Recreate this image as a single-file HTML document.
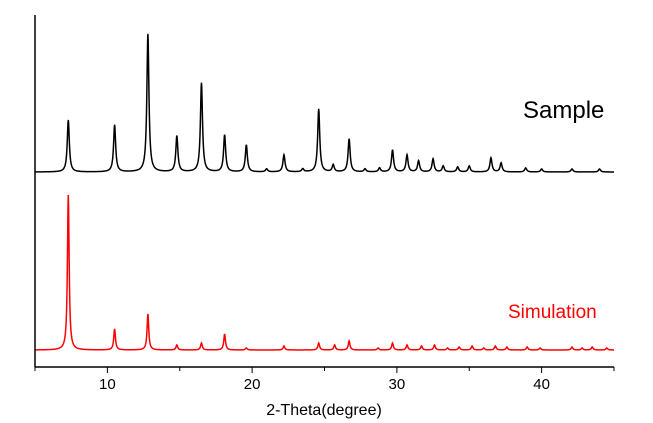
<!DOCTYPE html>
<html><head><meta charset="utf-8"><style>
html,body{margin:0;padding:0;background:#fff;}
svg{display:block;font-family:"Liberation Sans",Arial,sans-serif;}
</style></head><body>
<svg id="chart" width="653" height="423" viewBox="0 0 653 423">
<g id="plot"></g>
<line x1="35" y1="15" x2="35" y2="367" stroke="#000" stroke-width="1.5"/>
<line x1="35" y1="367" x2="614" y2="367" stroke="#000" stroke-width="1.5"/>
<g id="ticks"></g>
<text x="324" y="415" font-size="16" text-anchor="middle">2-Theta(degree)</text>
<text x="523" y="118" font-size="24" fill="#000">Sample</text>
<text x="508" y="318" font-size="19" fill="#f00">Simulation</text>
</svg>
<script>
const xTicks=[10,20,30,40];
const minorTicks=[5,15,25,35,45];
const samplePos=[7.3,10.5,12.8,14.8,16.5,18.1,19.6,21.0,22.2,23.5,24.6,25.6,26.7,27.8,28.8,29.7,30.7,31.5,32.5,33.2,34.2,35.0,36.5,37.2,38.9,40.0,42.1,44.0];
const sampleVal=[52,47,138,36,89,37,27,3,17,3,63,7,33,3,4,22,17,11,13,6,5,6,14,9,4,3,3,3];
const simPos=[7.3,10.5,12.8,14.8,16.5,18.1,19.6,22.2,24.6,25.7,26.7,28.7,29.7,30.7,31.7,32.6,33.5,34.3,35.2,36.0,36.8,37.6,39.0,39.9,42.1,42.8,43.5,44.5];
const simVal=[155,21,36,5,7,16,2,4,7,5,9,2,7,5,4,5,2,3,4,2,4,3,3,2,3,2,3,2];
const xs=d=>35+(d-5)*(579/40);
const ySample=v=>172-v;
const ySim=v=>350-v;
const NS="http://www.w3.org/2000/svg";
function profile(pos,val,d,w){let s=0;for(let i=0;i<pos.length;i++){const t=(d-pos[i])/w;s+=val[i]/(1+t*t);}return s;}
function path(pos,val,ys,w){let p="";for(let d=5;d<=45.001;d+=0.02){const x=xs(d),y=ys(profile(pos,val,d,w));p+=(p?"L":"M")+x.toFixed(2)+","+y.toFixed(2);}return p;}
const plot=document.getElementById('plot');
const ps=document.createElementNS(NS,'path');
ps.setAttribute('d',path(samplePos,sampleVal,ySample,0.085));
ps.setAttribute('fill','none');ps.setAttribute('stroke','#000');ps.setAttribute('stroke-width','1.5');


plot.appendChild(ps);
const pm=document.createElementNS(NS,'path');
pm.setAttribute('d',path(simPos,simVal,ySim,0.07));
pm.setAttribute('fill','none');pm.setAttribute('stroke','#f00');pm.setAttribute('stroke-width','1.5');


plot.appendChild(pm);
const tg=document.getElementById('ticks');
xTicks.forEach(t=>{
 const l=document.createElementNS(NS,'line');
 l.setAttribute('x1',xs(t));l.setAttribute('x2',xs(t));l.setAttribute('y1',367);l.setAttribute('y2',373);l.setAttribute('stroke','#000');
 
 
 tg.appendChild(l);
 const tx=document.createElementNS(NS,'text');
 tx.setAttribute('x',xs(t));tx.setAttribute('y',389);tx.setAttribute('font-size','15');tx.setAttribute('text-anchor','middle');
 tx.textContent=t;
 
 
 tg.appendChild(tx);
});
minorTicks.forEach(t=>{
 const l=document.createElementNS(NS,'line');
 l.setAttribute('x1',xs(t));l.setAttribute('x2',xs(t));l.setAttribute('y1',367);l.setAttribute('y2',371);l.setAttribute('stroke','#000');
 
 
 tg.appendChild(l);
});
</script>
</body></html>
